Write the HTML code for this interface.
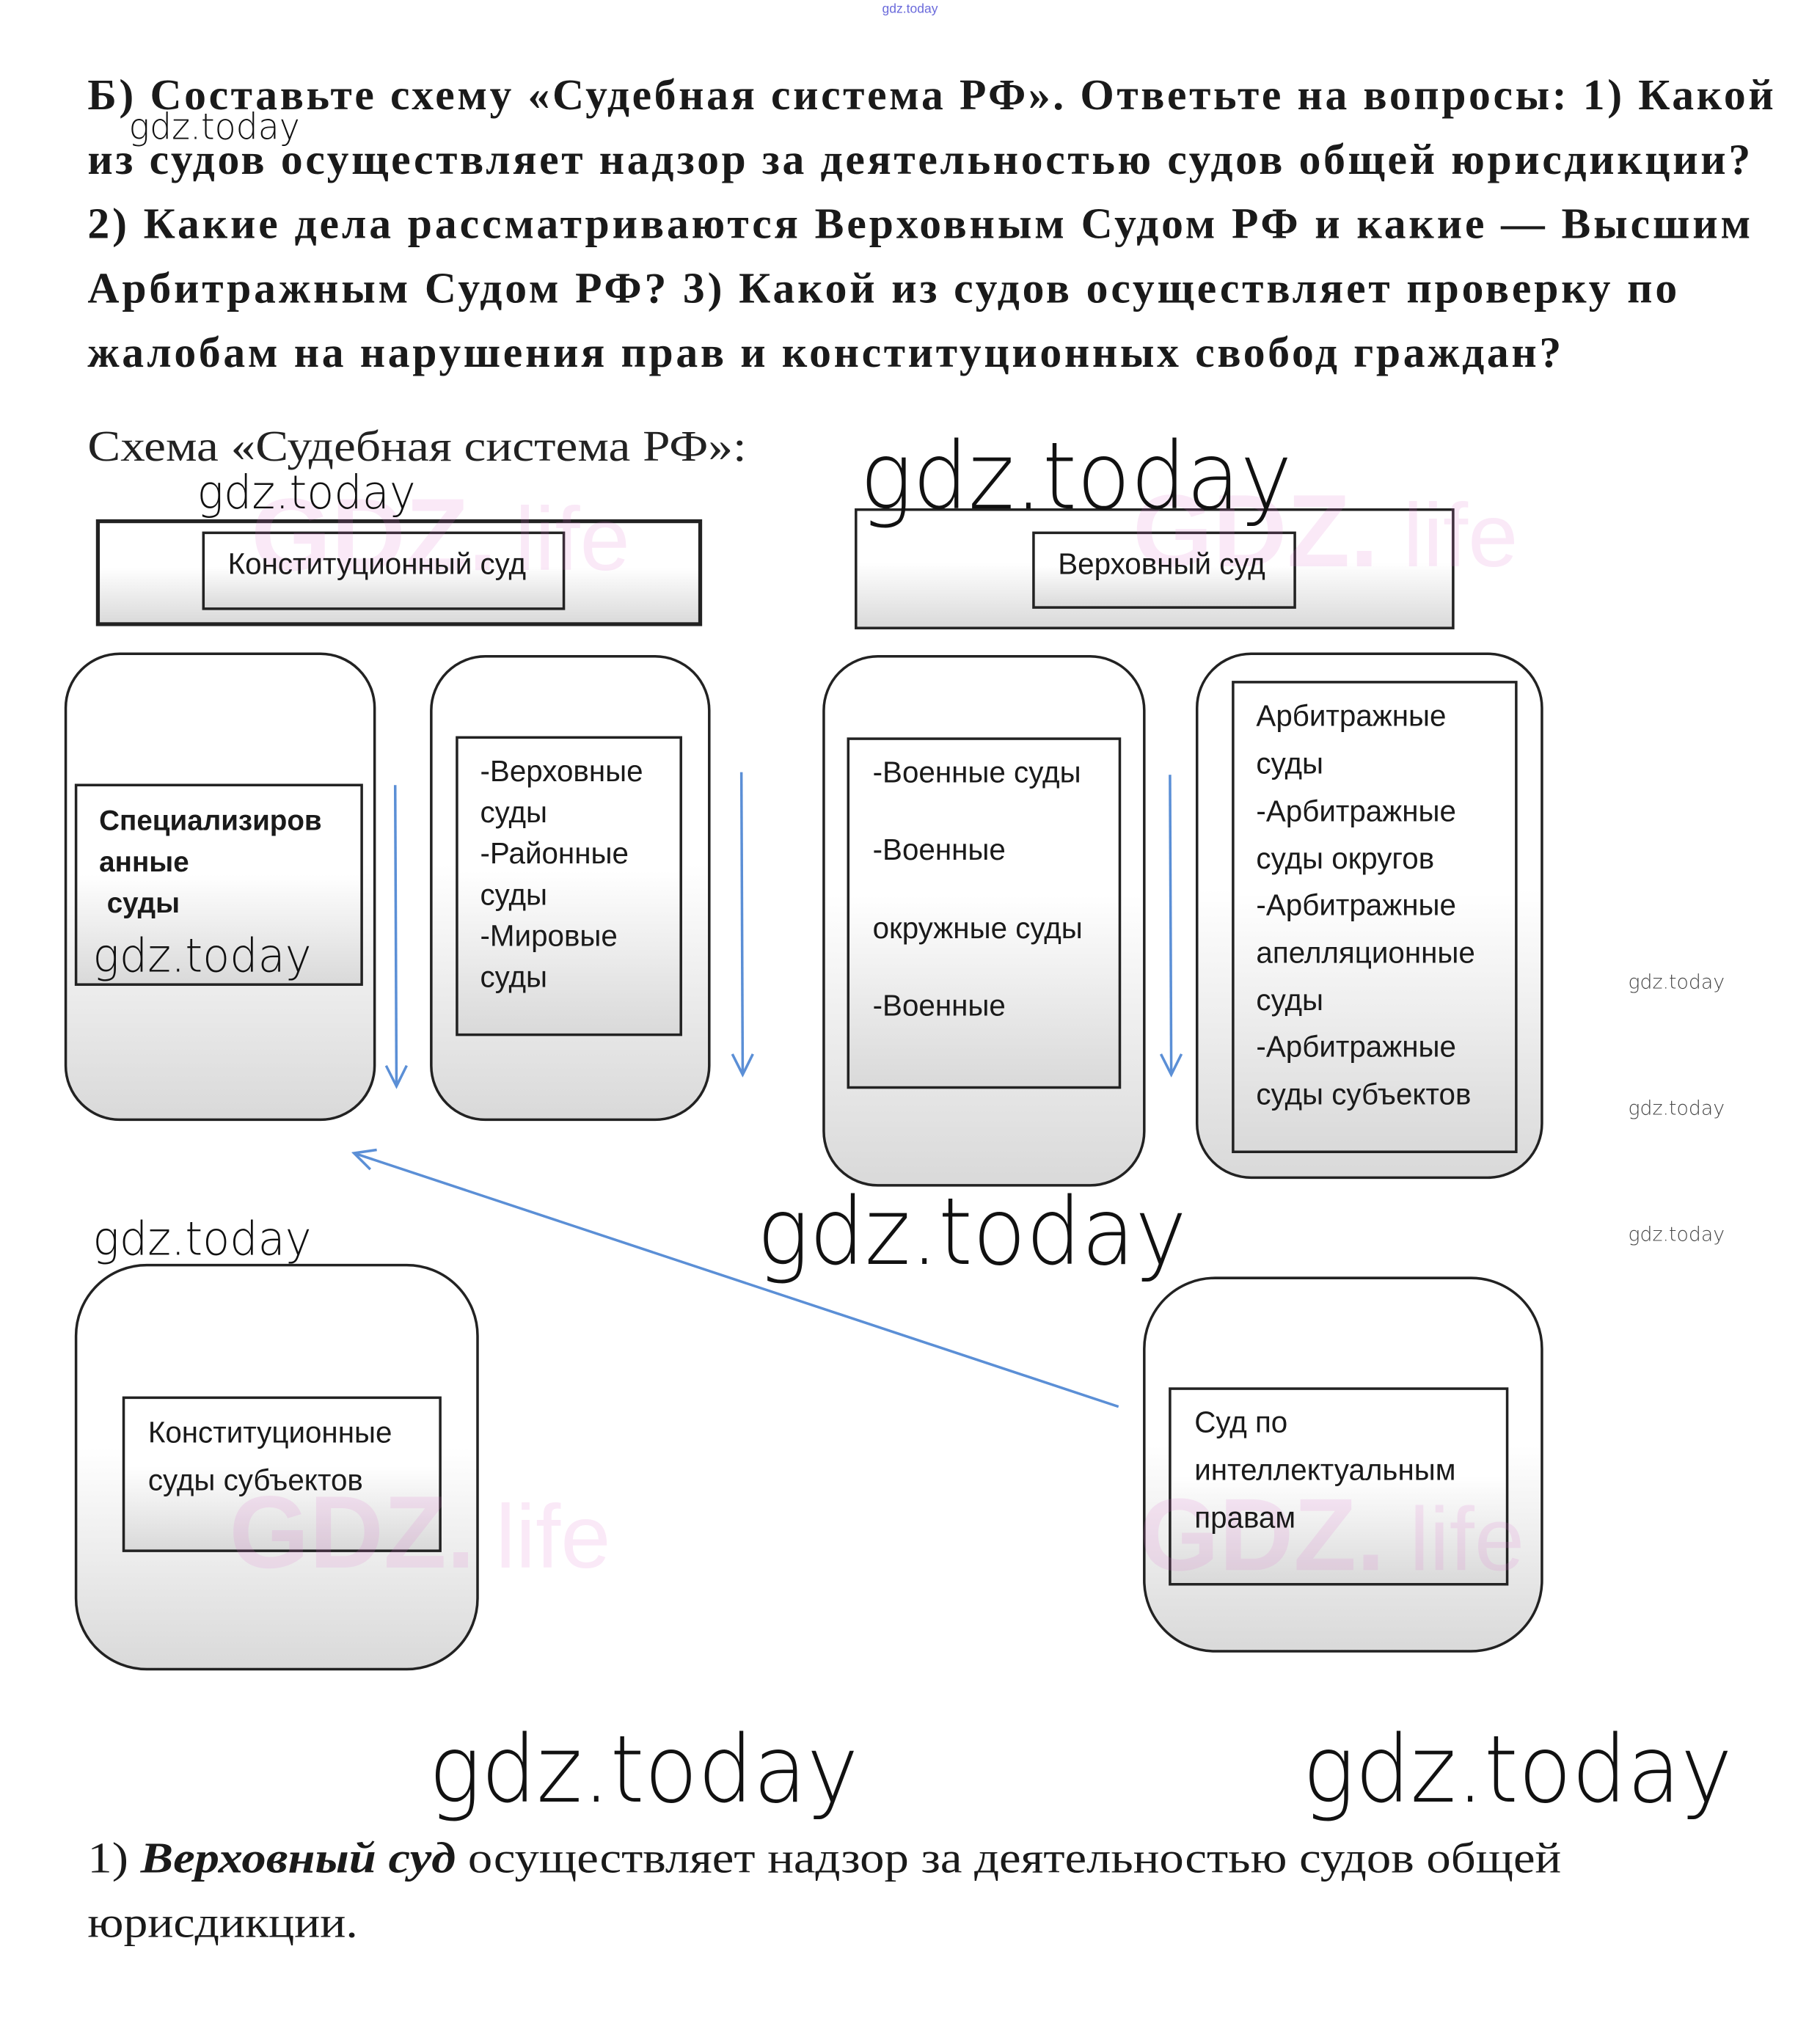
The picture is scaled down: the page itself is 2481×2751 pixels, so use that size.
<!DOCTYPE html>
<html><head><meta charset="utf-8"><style>html,body{margin:0;padding:0;background:#fff}svg{display:block}</style></head><body>
<svg width="2481" height="2751" viewBox="0 0 1414 1568" xmlns="http://www.w3.org/2000/svg">
<defs>
<linearGradient id="g" x1="0" y1="0" x2="0" y2="1"><stop offset="0" stop-color="#fff"/><stop offset="0.45" stop-color="#fff"/><stop offset="1" stop-color="#d9d9d9"/></linearGradient>
<marker id="ah" viewBox="0 0 20 20" refX="18" refY="10" markerWidth="20" markerHeight="20" markerUnits="userSpaceOnUse" orient="auto"><path d="M2,2 L18,10 L2,18" fill="none" stroke="#5b8fd6" stroke-width="2"/></marker>
</defs>
<text x="707" y="10" font-family="Liberation Sans, sans-serif" font-size="10" fill="#6a6adb" text-anchor="middle">gdz.today</text>
<g font-family="Liberation Serif, serif" font-weight="bold" font-size="34" fill="#1a1a1a">
<text x="68" y="85" textLength="1310" lengthAdjust="spacing">Б) Составьте схему «Судебная система РФ». Ответьте на вопросы: 1) Какой</text>
<text x="68" y="135" textLength="1292" lengthAdjust="spacing">из судов осуществляет надзор за деятельностью судов общей юрисдикции?</text>
<text x="68" y="185" textLength="1292" lengthAdjust="spacing">2) Какие дела рассматриваются Верховным Судом РФ и какие — Высшим</text>
<text x="68" y="235" textLength="1235" lengthAdjust="spacing">Арбитражным Судом РФ? 3) Какой из судов осуществляет проверку по</text>
<text x="68" y="285" textLength="1145" lengthAdjust="spacing">жалобам на нарушения прав и конституционных свобод граждан?</text>
</g>
<text x="68" y="358" font-family="Liberation Serif, serif" font-size="34" fill="#222" textLength="512" lengthAdjust="spacingAndGlyphs">Схема «Судебная система РФ»:</text>

<g stroke="#222" fill="url(#g)">
<rect x="76" y="405" width="468" height="80" stroke-width="3"/>
<rect x="158" y="414" width="280" height="59" stroke-width="2"/>
<rect x="665" y="396" width="464" height="92" stroke-width="2"/>
<rect x="803" y="414" width="203" height="58" stroke-width="2"/>
<rect x="51" y="508" width="240" height="362" rx="42" stroke-width="2"/>
<rect x="59" y="610" width="222" height="155" stroke-width="2"/>
<rect x="335" y="510" width="216" height="360" rx="42" stroke-width="2"/>
<rect x="355" y="573" width="174" height="231" stroke-width="2"/>
<rect x="640" y="510" width="249" height="411" rx="42" stroke-width="2"/>
<rect x="659" y="574" width="211" height="271" stroke-width="2"/>
<rect x="930" y="508" width="268" height="407" rx="42" stroke-width="2"/>
<rect x="958" y="530" width="220" height="365" stroke-width="2"/>
<rect x="59" y="983" width="312" height="314" rx="55" stroke-width="2"/>
<rect x="96" y="1086" width="246" height="119" stroke-width="2"/>
<rect x="889" y="993" width="309" height="290" rx="55" stroke-width="2"/>
<rect x="909" y="1079" width="262" height="152" stroke-width="2"/>
</g>

<g font-family="Liberation Sans, sans-serif" font-weight="bold" fill="#e070d0" opacity="0.15">
<text x="195" y="443" font-size="80">GDZ.</text><text x="400" y="443" font-size="70" font-weight="normal">life</text>
<text x="880" y="440" font-size="80">GDZ.</text><text x="1090" y="440" font-size="70" font-weight="normal">life</text>
<text x="178" y="1218" font-size="80">GDZ.</text><text x="385" y="1218" font-size="70" font-weight="normal">life</text>
<text x="885" y="1220" font-size="80">GDZ.</text><text x="1095" y="1220" font-size="70" font-weight="normal">life</text>
</g>

<g stroke="#5b8fd6" stroke-width="2" fill="none" marker-end="url(#ah)">
<line x1="307" y1="610" x2="308" y2="844"/>
<line x1="576" y1="600" x2="577" y2="835"/>
<line x1="909" y1="602" x2="910" y2="835"/>
<line x1="869" y1="1093" x2="275" y2="896"/>
</g>

<g font-family="Liberation Sans, DejaVu Sans, sans-serif" font-size="23" fill="#1a1a1a">
<text x="177" y="446">Конституционный суд</text>
<text x="822" y="446">Верховный суд</text>
<g font-weight="bold" font-size="22"><text x="77" y="645">Специализиров</text><text x="77" y="677">анные</text><text x="83" y="709">суды</text></g>
<text x="373" y="607">-Верховные</text><text x="373" y="639">суды</text><text x="373" y="671">-Районные</text><text x="373" y="703">суды</text><text x="373" y="735">-Мировые</text><text x="373" y="767">суды</text>
<text x="678" y="608">-Военные суды</text><text x="678" y="668">-Военные</text><text x="678" y="729">окружные суды</text><text x="678" y="789">-Военные</text>
<text x="976" y="564">Арбитражные</text><text x="976" y="601">суды</text><text x="976" y="638">-Арбитражные</text><text x="976" y="675">суды округов</text><text x="976" y="711">-Арбитражные</text><text x="976" y="748">апелляционные</text><text x="976" y="785">суды</text><text x="976" y="821">-Арбитражные</text><text x="976" y="858">суды субъектов</text>
<text x="115" y="1121">Конституционные</text><text x="115" y="1158">суды субъектов</text>
<text x="928" y="1113">Суд по</text><text x="928" y="1150">интеллектуальным</text><text x="928" y="1187">правам</text>
</g>

<g font-family="DejaVu Sans, sans-serif" font-weight="200" fill="#111" lengthAdjust="spacingAndGlyphs">
<text x="100" y="108" font-size="28" textLength="133" lengthAdjust="spacingAndGlyphs">gdz.today</text>
<text x="153" y="395" font-size="36" textLength="170" lengthAdjust="spacingAndGlyphs">gdz.today</text>
<text x="668" y="395" font-size="72" textLength="336" lengthAdjust="spacingAndGlyphs">gdz.today</text>
<text x="72" y="755" font-size="36" textLength="170" lengthAdjust="spacingAndGlyphs">gdz.today</text>
<text x="72" y="975" font-size="36" textLength="170" lengthAdjust="spacingAndGlyphs">gdz.today</text>
<text x="588" y="982" font-size="72" textLength="334" lengthAdjust="spacingAndGlyphs">gdz.today</text>
<text x="1265" y="768" font-size="15" fill="#444" textLength="75" lengthAdjust="spacingAndGlyphs">gdz.today</text>
<text x="1265" y="866" font-size="15" fill="#444" textLength="75" lengthAdjust="spacingAndGlyphs">gdz.today</text>
<text x="1265" y="964" font-size="15" fill="#444" textLength="75" lengthAdjust="spacingAndGlyphs">gdz.today</text>
<text x="333" y="1400" font-size="72" textLength="334" lengthAdjust="spacingAndGlyphs">gdz.today</text>
<text x="1012" y="1400" font-size="72" textLength="334" lengthAdjust="spacingAndGlyphs">gdz.today</text>
</g>

<g font-family="Liberation Serif, serif" font-size="34" fill="#1a1a1a">
<text x="68" y="1455" textLength="1145" lengthAdjust="spacingAndGlyphs">1) <tspan font-weight="bold" font-style="italic">Верховный суд</tspan> осуществляет надзор за деятельностью судов общей</text>
<text x="68" y="1505" textLength="210" lengthAdjust="spacingAndGlyphs">юрисдикции.</text>
</g>
</svg>
</body></html>
